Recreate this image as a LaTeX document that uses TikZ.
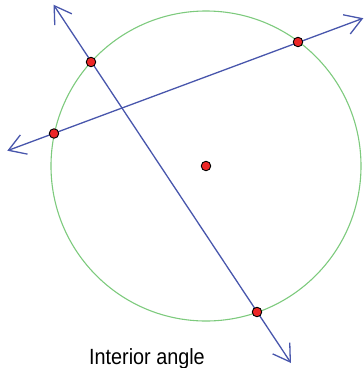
\documentclass[tikz,border=0pt]{standalone}
\usepackage{fontspec}
\setmainfont{Liberation Sans}
\newfontfamily\labelfont[FakeStretch=0.9]{Liberation Sans}
\usetikzlibrary{arrows.meta}
\definecolor{lineblue}{RGB}{72,86,172}
\definecolor{circgreen}{RGB}{125,202,125}
\definecolor{dotred}{RGB}{236,38,38}
\tikzset{
  secant/.style={draw=lineblue, line width=1.3pt, {Straight Barb[length=16.5pt,width=20.5pt]}-{Straight Barb[length=16.5pt,width=20.5pt]}},
  dot/.style={circle, fill=dotred, draw=black, line width=0.9pt, inner sep=0pt, minimum size=9.5pt},
  caption/.style={font=\labelfont\fontsize{22}{24}\selectfont, anchor=base, inner sep=0pt}
}
\begin{document}
\begin{tikzpicture}[x=1pt,y=-1pt]
\useasboundingbox (0,0) rectangle (364,368);
\coordinate (O) at (206,166);
\draw[circgreen, line width=1.1pt] (O) circle[radius=155];
\coordinate (a1) at (53.5,4.7);
\coordinate (a2) at (291,363);
\coordinate (b1) at (7.3,150.7);
\coordinate (b2) at (363.3,18.2);
\draw[secant] (a1) -- (a2);
\draw[secant] (b1) -- (b2);
\node[dot] (P) at (91,62) {};
\node[dot] (Q) at (298,42) {};
\node[dot] (R) at (54,133.5) {};
\node[dot] (S) at (257,312) {};
\node[dot] (C) at (O) {};
\node[caption] (L) at (147,364) {Interior angle};
\end{tikzpicture}
\end{document}
